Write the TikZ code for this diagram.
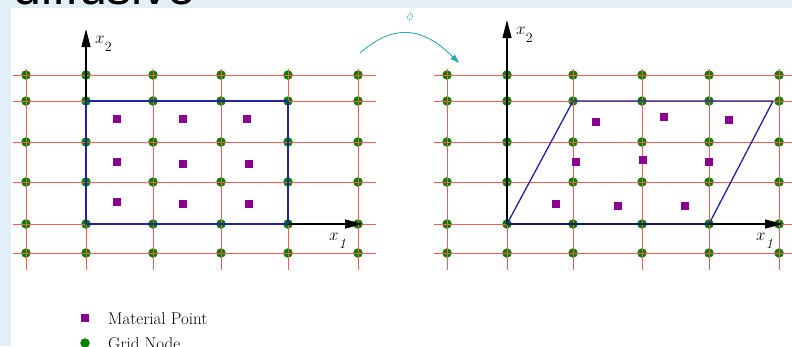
\documentclass[tikz,border=0pt]{standalone}
\usepackage{fix-cm}
\usepackage{fontspec}
\newfontfamily\titlefont{Liberation Sans}
\usetikzlibrary{arrows.meta}
\definecolor{slidebg}{RGB}{227,239,246}
\definecolor{gridred}{RGB}{255,90,90}
\definecolor{nodegreen}{RGB}{0,130,0}
\definecolor{matpurple}{RGB}{140,0,145}
\definecolor{domblue}{RGB}{35,35,160}
\definecolor{phiteal}{RGB}{45,170,175}
\begin{document}
\begin{tikzpicture}[x=1pt,y=-1pt,
  gridline/.style={draw=gridred, line width=1pt, xshift=0.5pt, yshift=-0.5pt},
  gridnode/.style={circle, fill=nodegreen, minimum size=9.5pt, inner sep=0pt},
  matpt/.style={rectangle, fill=matpurple, minimum size=8pt, inner sep=0pt},
  bodyline/.style={draw=domblue, line width=1.3pt, line join=round},
  axisarrow/.style={draw=black, line width=1.3pt, -{Triangle[length=18pt,width=9pt]}},
  axislabel/.style={anchor=base west, inner sep=0pt, font=\fontsize{17}{17}\selectfont},
  legendtext/.style={anchor=base west, inner sep=0pt, font=\fontsize{17}{17}\selectfont},
  phiarrow/.style={draw=phiteal, line width=0.9pt, -{Triangle[length=9pt,width=6pt]}}]
\useasboundingbox (0,0) rectangle (792,346);
\clip (0,0) rectangle (792,346);
% slide background
\fill[slidebg] (0,0) rectangle (792,346);
\fill[white] (11,8) rectangle (792,350);
\node[anchor=base west, inner sep=0pt, font=\titlefont\fontsize{50}{50}\selectfont] (title) at (13,4) {diffusive};

% ---------- left panel: grid nodes ----------
\foreach \x [count=\i] in {26,86,153,221,288,358}
  \foreach \y [count=\j] in {75,101,142,182,224,253}
    \node[gridnode] (L\i-\j) at (\x,\y) {};
% grid lines
\foreach \y in {75,101,142,182,224,253}
  \draw[gridline] (12,\y) -- (375,\y);
\foreach \x in {26,86,153,221,288,358}
  \draw[gridline] (\x,68) -- (\x,269);

% axes (left)
\coordinate (LO) at (86,224);
\coordinate (LX2) at (86,29);
\coordinate (LX1) at (363,224);
\draw[axisarrow] (LO) -- (LX2);
\draw[axisarrow] (LO) -- (LX1);
\node[axislabel] (lx2) at (95,43) {$x$\hspace{0.3pt}\raisebox{-8.5pt}{\fontsize{14}{14}\selectfont 2}};
\node[axislabel] (lx1) at (329,240) {$x$\hspace{0.3pt}\raisebox{-8pt}{\fontsize{14}{14}\selectfont\itshape 1}};

% body (left)
\draw[bodyline] (L2-2.center) -- (L5-2.center) -- (L5-5.center) -- (L2-5.center) -- cycle;
\foreach \px/\py [count=\k] in {117/119,183/119,247/119,117/162,183/164,249/164,117/202,183/204,249/204}
  \node[matpt] (LM\k) at (\px,\py) {};

% ---------- right panel: grid nodes ----------
\foreach \x [count=\i] in {447,507,573,642,709,779}
  \foreach \y [count=\j] in {75,101,142,182,224,253}
    \node[gridnode] (R\i-\j) at (\x,\y) {};
\foreach \y in {75,101,142,182,224,253}
  \draw[gridline] (433,\y) -- (796,\y);
\foreach \x in {447,507,573,642,709,779}
  \draw[gridline] (\x,68) -- (\x,269);

% axes (right)
\coordinate (RO) at (507,224);
\coordinate (RX2) at (507,20);
\coordinate (RX1) at (783,224);
\draw[axisarrow] (RO) -- (RX2);
\draw[axisarrow] (RO) -- (RX1);
\node[axislabel] (rx2) at (516,34) {$x$\hspace{0.3pt}\raisebox{-8pt}{\fontsize{14}{14}\selectfont 2}};
\node[axislabel] (rx1) at (756,240) {$x$\hspace{0.3pt}\raisebox{-8pt}{\fontsize{14}{14}\selectfont\itshape 1}};

% deformed body (right)
\coordinate (P1) at (507,224);
\coordinate (P2) at (573,101);
\coordinate (P3) at (773,101);
\coordinate (P4) at (709,224);
\draw[bodyline] (P1) -- (P2) -- (P3) -- (P4) -- cycle;
\foreach \px/\py [count=\k] in {596/122,664/117,729/120,576/162,643/160,709/162,556/204,618/206,685/206}
  \node[matpt] (RM\k) at (\px,\py) {};

% mapping arrow phi
\coordinate (phiS) at (360,53);
\coordinate (phiE) at (459,63);
\draw[phiarrow] (phiS) .. controls (393,24) and (422,26) .. (phiE);
\node[text=phiteal, inner sep=0pt] (phi) at (410,17) {\scalebox{1.05}[1.55]{$\phi$}};

% legend
\node[matpt] (legM) at (85,318) {};
\node[legendtext] (legMt) at (108,324) {Material Point};
\node[gridnode] (legG) at (85,343) {};
\node[legendtext] (legGt) at (108,349) {Grid Node};
\end{tikzpicture}
\end{document}
